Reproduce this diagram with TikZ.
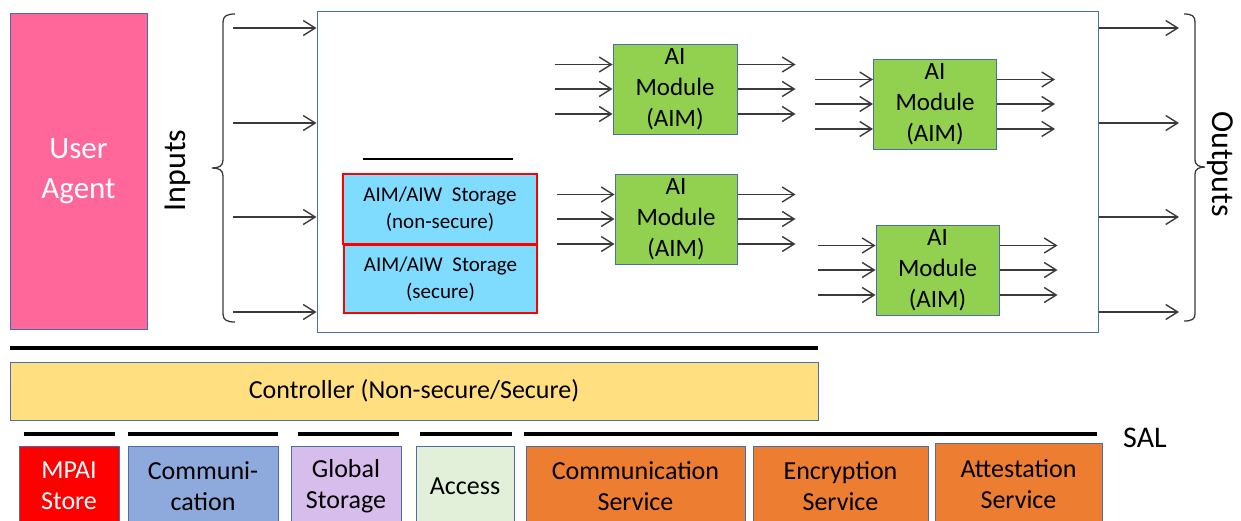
\documentclass[tikz,border=0pt]{standalone}
\usepackage{fontspec}
\setmainfont{Carlito}
\usetikzlibrary{arrows.meta,calc}
\definecolor{bordc}{HTML}{4A6FA8}
\definecolor{uapink}{HTML}{FF6699}
\definecolor{aimgreen}{HTML}{92D050}
\definecolor{stoblue}{HTML}{80DCFF}
\definecolor{ctrlc}{HTML}{FFDF7F}
\definecolor{commc}{HTML}{8EA9DB}
\definecolor{globc}{HTML}{D7BDEB}
\definecolor{accc}{HTML}{E2F0D9}
\definecolor{orangec}{HTML}{ED7D31}
\definecolor{arrc}{HTML}{3A3A3A}
\newcommand{\myfs}[2]{\fontsize{#1}{#2}\selectfont}
\begin{document}
\begin{tikzpicture}[x=1pt,y=-1pt,
  box/.style={draw=bordc, line width=1pt, inner sep=0pt, align=center},
  aim/.style={box, fill=aimgreen, font=\myfs{25}{31}},
  sto/.style={box, draw=red, line width=1.2pt, fill=stoblue, font=\myfs{21}{27}},
  svc/.style={box, font=\myfs{26}{31}, minimum height=80pt},
  arr/.style={draw=arrc, line width=1.4pt, -{Straight Barb[length=12pt,width=15pt,line width=1.4pt]}},
  bar/.style={line width=4pt, black},
  brace/.style={draw=arrc, line width=1.3pt}]
\useasboundingbox (0,0) rectangle (1241,520);
\clip (0,0) rectangle (1241,520);

% User agent
\node[box, fill=uapink, text=white, minimum width=137pt, minimum height=316pt, font=\myfs{31}{40}] (ua) at (78.5,171) {User\\Agent};
\node[rotate=90, anchor=base, inner sep=0pt, font=\myfs{32}{38}] (inputs) at (185,170.5) {Inputs};

% left brace
\draw[brace] (235,14) .. controls (227,14) and (223,16) .. (223,22) -- (223,160)
  .. controls (223,166) and (219,168) .. (212,168)
  .. controls (219,168) and (223,170) .. (223,176) -- (223,314)
  .. controls (223,320) and (227,322) .. (235,322);

% main box
\node[box, minimum width=781pt, minimum height=321pt] (main) at (707.5,171.5) {};

% input / output arrows
\foreach \i/\y in {1/28,2/123,3/217,4/312}{
  \coordinate (in\i) at (233,\y);
  \coordinate (out\i) at (1179,\y);
  \draw[arr] (in\i) -- (main.west |- in\i);
  \draw[arr] (main.east |- out\i) -- (out\i);
}

% right brace
\draw[brace] (1184,14) .. controls (1192,14) and (1195,16) .. (1195,22) -- (1195,160)
  .. controls (1195,165) and (1199,167) .. (1205,167)
  .. controls (1199,167) and (1195,169) .. (1195,174) -- (1195,314)
  .. controls (1195,319) and (1192,321) .. (1184,321);
\node[rotate=-90, anchor=base, inner sep=0pt, font=\myfs{32}{38}] (outputs) at (1212,164) {Outputs};

% storage
\draw[line width=2.7pt] (363,159) -- (513,159);
\node[sto, minimum width=194pt, minimum height=70pt] (st1) at (440,209) {AIM/AIW~~Storage\\(non-secure)};
\node[sto, minimum width=193pt, minimum height=68pt] (st2) at (440.5,279) {AIM/AIW~~Storage\\(secure)};

% AI modules
\node[aim, minimum width=124pt, minimum height=90pt] (aim1) at (675,89) {AI\\Module\\(AIM)};
\node[aim, minimum width=122pt, minimum height=90pt] (aim2) at (676,219) {AI\\Module\\(AIM)};
\node[aim, minimum width=123pt, minimum height=90pt] (aim3) at (935,104) {AI\\Module\\(AIM)};
\node[aim, minimum width=123pt, minimum height=90pt] (aim4) at (937.5,270) {AI\\Module\\(AIM)};
\foreach \a in {aim1,aim2,aim3,aim4}{
  \foreach \o in {21,45.5,70.5}{
    \draw[arr] ($(\a.north west)+(-58,\o)$) -- ($(\a.north west)+(0,\o)$);
    \draw[arr] ($(\a.north east)+(0,\o)$) -- ($(\a.north east)+(58,\o)$);
  }
}

% controller
\draw[bar] (10,348) -- (818,348);
\node[box, fill=ctrlc, minimum width=808pt, minimum height=58pt, font=\myfs{26}{31}] (ctrl) at (414,391) {Controller (Non-secure/Secure)};

% SAL bars
\draw[bar] (24,434) -- (115,434);
\draw[bar] (128,434) -- (278,434);
\draw[bar] (298,434) -- (399,434);
\draw[bar] (420,434) -- (512,434);
\draw[bar] (524,434) -- (1097,434);
\node[anchor=base west, inner sep=0pt, font=\myfs{30}{36}] (sal) at (1123,447) {SAL};

% services
\node[svc, fill=red, text=white, minimum width=100pt] (mpai) at (69,486) {MPAI\\Store};
\node[svc, fill=commc, minimum width=150pt] (comm) at (203,486) {Communi-\\cation};
\node[svc, fill=globc, minimum width=110pt] (glob) at (346,486) {Global\\Storage};
\node[svc, fill=accc, minimum width=98pt] (acc) at (465,486) {Access};
\node[svc, fill=orangec, minimum width=219pt] (cs) at (635.5,486) {Communication\\Service};
\node[svc, fill=orangec, minimum width=175pt] (enc) at (840.5,486) {Encryption\\Service};
\node[svc, fill=orangec, minimum width=167pt, minimum height=83pt] (att) at (1018.5,484.5) {Attestation\\Service};
\end{tikzpicture}
\end{document}
